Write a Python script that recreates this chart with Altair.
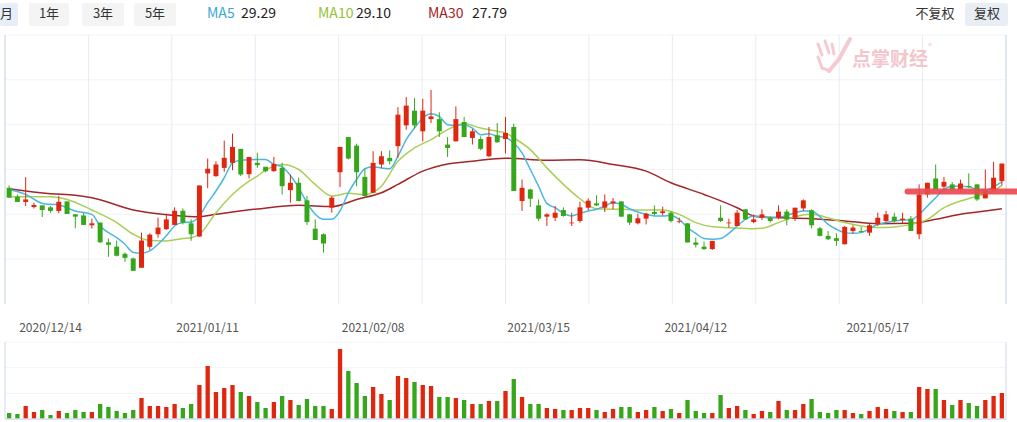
import altair as alt
import pandas as pd

# ---------------- data ----------------
opens = [28.98, 28.48, 28.19, 27.91, 28.00, 27.89, 27.69, 28.22, 27.50, 27.44,
         26.89, 27.04, 25.94, 25.70, 25.30, 25.04, 24.52, 25.69, 26.39, 26.67,
         26.91, 27.70, 27.00, 26.26, 29.78, 29.63, 30.09, 30.37, 31.15, 29.74,
         30.37, 30.15, 29.91, 30.09, 28.85, 29.26, 28.28, 26.70, 26.39, 27.87,
         29.85, 31.81, 31.33, 29.59, 28.70, 30.28, 30.65, 31.30, 32.46, 33.28,
         32.13, 32.81, 32.81, 31.39, 31.57, 32.65, 31.76, 31.70, 30.74, 31.91,
         31.70, 32.37, 28.24, 28.89, 28.00, 27.37, 27.31, 27.74, 27.00, 27.13,
         27.87, 28.11, 27.87, 28.11, 28.22, 27.50, 27.00, 27.26, 27.63, 27.57,
         27.59, 27.07, 27.00, 25.93, 25.70, 25.56, 27.31, 27.00, 26.85, 27.78,
         27.07, 27.31, 27.31, 27.31, 27.65, 27.31, 27.83, 27.72, 26.72, 26.30,
         26.17, 25.83, 26.57, 26.57, 26.48, 26.94, 27.13, 27.37, 27.18, 27.26,
         26.39, 28.61, 29.50, 29.04, 29.17, 28.89, 29.07, 29.17, 28.39, 28.85,
         29.35]
closes = [28.43, 28.19, 28.33, 28.02, 27.74, 27.69, 28.20, 27.52, 27.37, 26.91,
          27.00, 25.94, 25.80, 25.19, 25.07, 24.35, 26.04, 26.37, 26.76, 27.22,
          27.70, 27.04, 26.39, 29.11, 30.04, 30.28, 30.65, 31.26, 29.72, 30.70,
          30.24, 29.91, 30.31, 29.07, 29.26, 28.24, 27.07, 26.07, 25.87, 28.43,
          31.26, 30.61, 29.85, 28.52, 30.37, 30.74, 30.46, 33.06, 33.56, 32.46,
          33.28, 32.96, 32.13, 31.20, 32.81, 31.81, 32.13, 31.15, 31.81, 31.52,
          32.04, 28.80, 28.98, 28.37, 27.26, 27.50, 27.59, 27.41, 27.04, 27.89,
          28.26, 28.00, 28.22, 28.22, 27.37, 27.04, 27.28, 27.54, 27.52, 27.67,
          27.13, 27.11, 25.93, 25.80, 25.56, 26.02, 27.13, 27.04, 27.59, 27.22,
          27.22, 27.50, 27.13, 27.65, 27.22, 27.87, 28.28, 26.89, 26.30, 26.11,
          26.02, 26.80, 26.76, 26.52, 26.89, 27.31, 27.50, 27.13, 27.26, 26.57,
          28.61, 29.26, 28.89, 29.31, 28.89, 29.22, 29.02, 28.33, 28.80, 29.54,
          30.33]
highs = [29.11, 28.61, 29.57, 28.15, 28.00, 27.96, 28.52, 28.22, 27.50, 27.59,
         27.26, 27.04, 26.15, 26.04, 25.37, 25.09, 26.48, 26.44, 27.31, 27.54,
         27.89, 27.83, 27.22, 29.11, 30.61, 30.46, 31.61, 32.00, 31.15, 30.70,
         30.93, 30.15, 30.70, 30.37, 29.72, 29.54, 28.52, 27.22, 26.44, 28.52,
         31.26, 31.81, 31.44, 30.04, 31.02, 31.02, 31.07, 33.48, 34.04, 33.98,
         33.94, 34.44, 33.19, 31.81, 33.52, 32.93, 32.26, 31.85, 32.37, 32.59,
         32.93, 32.56, 29.44, 28.93, 28.33, 27.56, 27.96, 27.89, 27.59, 28.20,
         28.39, 28.56, 28.61, 28.41, 28.22, 27.50, 27.54, 27.59, 28.00, 27.93,
         27.67, 27.31, 27.00, 26.20, 25.98, 26.02, 28.00, 27.26, 27.74, 27.78,
         27.50, 27.78, 27.37, 28.00, 27.78, 27.87, 28.33, 27.78, 26.80, 26.57,
         26.44, 26.85, 26.89, 26.80, 26.98, 27.59, 27.69, 27.59, 27.59, 27.41,
         29.17, 29.26, 30.28, 29.59, 29.30, 29.44, 29.78, 29.17, 30.00, 30.43,
         30.33]
lows = [28.43, 28.19, 27.96, 27.83, 27.35, 27.59, 27.56, 27.52, 26.72, 26.91,
        26.70, 25.89, 25.13, 25.15, 24.85, 24.35, 24.52, 25.52, 26.20, 26.63,
        26.91, 26.94, 26.02, 26.26, 28.96, 29.59, 29.87, 29.96, 29.63, 29.50,
        30.09, 29.85, 29.87, 28.61, 28.15, 28.24, 26.91, 26.07, 25.37, 27.59,
        29.02, 30.56, 29.07, 28.48, 28.70, 30.09, 30.28, 30.65, 32.22, 32.28,
        31.57, 32.59, 31.81, 30.70, 31.57, 31.81, 31.39, 31.07, 30.70, 31.48,
        30.89, 28.80, 27.69, 27.91, 27.13, 26.85, 27.13, 27.37, 26.85, 27.04,
        27.72, 27.96, 27.63, 27.78, 27.37, 26.91, 26.94, 26.94, 27.44, 27.44,
        27.04, 27.00, 25.93, 25.65, 25.52, 25.52, 27.07, 26.76, 26.85, 27.19,
        27.00, 27.18, 27.04, 27.22, 26.89, 27.13, 27.69, 26.72, 26.26, 26.07,
        25.74, 25.83, 26.44, 26.48, 26.30, 26.85, 27.04, 27.04, 27.00, 26.57,
        26.11, 28.43, 28.89, 28.85, 28.85, 28.70, 28.98, 28.24, 28.39, 28.85,
        29.11]
volumes = [18, 15, 39, 21, 27, 12, 24, 18, 27, 21,
           21, 45, 36, 24, 18, 27, 63, 39, 39, 36,
           45, 33, 45, 102, 159, 81, 93, 102, 81, 69,
           51, 33, 51, 69, 57, 42, 60, 39, 39, 30,
           210, 144, 108, 69, 96, 75, 57, 129, 123, 111,
           102, 99, 66, 66, 63, 57, 45, 45, 54, 54,
           84, 120, 66, 45, 45, 33, 30, 27, 27, 33,
           33, 27, 21, 30, 36, 36, 21, 27, 36, 24,
           30, 18, 57, 24, 18, 18, 72, 33, 39, 27,
           15, 24, 21, 54, 27, 27, 45, 60, 21, 18,
           27, 27, 18, 15, 24, 36, 30, 24, 21, 21,
           96, 90, 90, 57, 42, 57, 48, 39, 57, 69,
           78]

ma5_i = [0, 2, 4, 6, 8, 10, 11, 13, 14, 15, 16, 17, 18, 19, 20, 21, 22, 23, 24, 25,
         26, 27, 28, 30, 31, 32, 33, 34, 35, 36, 37, 38, 39, 40, 41, 42, 43, 44, 45, 46,
         47, 48, 49, 50, 51, 52, 53, 54, 55, 56, 57, 58, 59, 60, 61, 62, 63, 64, 65, 66,
         67, 68, 69, 70, 71, 72, 73, 74, 75, 76, 77, 78, 79, 80, 81, 82, 83, 84, 85, 86,
         87, 88, 89, 90, 91, 92, 93, 94, 95, 96, 97, 98, 99, 100, 101, 102, 103, 104, 105, 106,
         107, 108, 109, 110, 111, 112, 113, 114, 115, 116, 117, 118, 119, 120]
ma5_v = [28.89, 28.61, 28.11, 28.02, 27.69, 27.50, 26.85, 26.20, 25.83, 25.37, 25.33, 25.46, 25.83, 26.30, 26.85, 27.04, 27.07, 27.41, 28.15, 28.80,
         29.54, 30.37, 30.52, 30.56, 30.56, 30.28, 30.15, 29.67, 28.98, 28.15, 27.50, 27.22, 27.22, 27.69, 28.70, 29.44, 30.04, 30.15, 30.09, 30.04,
         30.74, 31.67, 32.31, 32.87, 33.11, 32.96, 32.50, 32.46, 32.50, 32.31, 31.94, 32.00, 31.85, 31.78, 31.48, 30.93, 30.00, 29.07, 28.11, 27.87,
         27.56, 27.41, 27.56, 27.69, 27.78, 27.96, 28.15, 28.06, 27.81, 27.63, 27.50, 27.41, 27.41, 27.44, 27.22, 26.76, 26.44, 26.15, 26.11, 26.15,
         26.44, 26.85, 27.22, 27.41, 27.35, 27.31, 27.35, 27.44, 27.59, 27.69, 27.69, 27.37, 26.94, 26.67, 26.48, 26.44, 26.48, 26.70, 26.94, 27.04,
         27.13, 27.19, 27.19, 27.50, 27.96, 28.43, 28.89, 29.07, 29.07, 29.04, 28.89, 28.85, 29.04, 29.31]

ma10_i = [0, 5, 7, 10, 13, 15, 17, 19, 21, 22, 23, 25, 27, 29, 30, 31, 33, 35, 37, 39,
          41, 43, 45, 47, 49, 51, 53, 55, 57, 59, 60, 61, 63, 65, 67, 69, 71, 74, 77, 79,
          81, 83, 85, 88, 90, 91, 93, 95, 97, 99, 101, 103, 105, 107, 109, 111, 113, 115, 117, 119, 120]
ma10_v = [28.48, 28.48, 28.33, 27.74, 27.04, 26.39, 26.04, 26.02, 26.15, 26.20, 26.39, 27.59, 28.61, 29.35, 29.63, 29.96, 30.28, 30.00, 29.17, 28.52,
          28.67, 28.61, 29.07, 30.46, 31.20, 31.67, 32.22, 32.56, 32.31, 32.13, 32.04, 31.76, 31.11, 30.09, 29.17, 28.37, 27.81, 27.78, 27.74, 27.74,
          27.50, 27.04, 26.81, 26.74, 26.70, 26.72, 27.04, 27.37, 27.50, 27.31, 27.04, 26.85, 26.76, 26.80, 26.94, 27.22, 27.87, 28.24, 28.52, 28.80, 29.11]

ma30_i = [0, 5, 8, 10, 15, 20, 23, 25, 30, 35, 39, 42, 45, 47, 50, 53, 56, 60, 65, 69,
          73, 77, 80, 84, 88, 90, 91, 97, 101, 105, 109, 112, 115, 118, 120]
ma30_v = [28.93, 28.65, 28.56, 28.43, 27.74, 27.44, 27.37, 27.50, 27.80, 28.00, 27.93, 28.33, 28.70, 29.17, 29.91, 30.31, 30.46, 30.63, 30.52, 30.54,
          30.28, 29.91, 29.26, 28.61, 27.87, 27.41, 27.35, 27.26, 27.13, 26.98, 27.00, 27.22, 27.50, 27.68, 27.81]

label_idx = [5, 24, 44, 64, 83, 105]
label_txt = ["2020/12/14", "2021/01/11", "2021/02/08", "2021/03/15", "2021/04/12", "2021/05/17"]

price_grid = [25.0, 27.5, 30.0, 32.5, 35.0, 37.5]
vol_grid = [77, 154, 231]

ma_names = ["MA5", "MA10", "MA30"]
ma_last = ["29.29", "29.10", "27.79"]

annot_level = 28.78
annot_from = 108.6
annot_to = 122.0

# ---------------- layout / style ----------------
W, H = 1001, 384          # plot area (both panels)
MAIN_H = 269              # price panel height
VOL_TOP = 307             # volume panel top (relative)
RED, GREEN = "#e0260e", "#36a71a"
C_MA5, C_MA10, C_MA30 = "#4ab8e0", "#a9cf57", "#a3262a"
CJK = "Noto Sans CJK SC"

n = len(closes)
candles = pd.DataFrame({"i": list(range(n)), "open": opens, "close": closes,
                        "high": highs, "low": lows, "vol": volumes})
candles["dir"] = ["up" if c >= o else "down" for o, c in zip(opens, closes)]
candles["bl"] = candles["i"] - 0.3
candles["br"] = candles["i"] + 0.3
candles["vl"] = candles["i"] - 0.26
candles["vr"] = candles["i"] + 0.26

xs = alt.Scale(domain=[-0.5, n - 0.5], nice=False, zero=False)
ps = alt.Scale(domain=[37.5 - H * 15 / MAIN_H, 37.5], nice=False, zero=False)
vs = alt.Scale(domain=[0, 231 * H / (H - VOL_TOP)], nice=False, zero=True)
cs = alt.Scale(domain=["up", "down"], range=[RED, GREEN])

grid_x = pd.DataFrame({"gx": [k * n / 12 - 0.5 for k in range(13)]})
edge_x = pd.DataFrame({"gx": [-0.5, n - 0.5]})

# ---- price panel ----
hgrid = alt.Chart(pd.DataFrame({"p": price_grid})).mark_rule(color="#f1f4f8").encode(
    y=alt.Y("p:Q", scale=ps, axis=None), x=alt.value(0), x2=alt.value(W))
vgrid = alt.Chart(grid_x).mark_rule(color="#e6ecf4").encode(
    x=alt.X("gx:Q", scale=xs, axis=None), y=alt.value(0), y2=alt.value(MAIN_H))
vedge = alt.Chart(edge_x).mark_rule(color="#cfdaea").encode(
    x=alt.X("gx:Q", scale=xs, axis=None), y=alt.value(0), y2=alt.value(MAIN_H))

wicks = alt.Chart(candles).mark_rule(strokeWidth=1).encode(
    x=alt.X("i:Q", scale=xs, axis=None),
    y=alt.Y("low:Q", scale=ps, axis=None), y2="high:Q",
    color=alt.Color("dir:N", scale=cs, legend=None))
bodies = alt.Chart(candles).mark_rect().encode(
    x=alt.X("bl:Q", scale=xs, axis=None), x2="br:Q",
    y=alt.Y("open:Q", scale=ps, axis=None), y2="close:Q",
    color=alt.Color("dir:N", scale=cs, legend=None))


def ma_line(idx, vals, color):
    return alt.Chart(pd.DataFrame({"i": idx, "v": vals})).mark_line(
        color=color, strokeWidth=1.5, interpolate="monotone").encode(
        x=alt.X("i:Q", scale=xs, axis=None), y=alt.Y("v:Q", scale=ps, axis=None))


annot = alt.Chart(pd.DataFrame({"a": [annot_from], "b": [annot_to], "p": [annot_level]})).mark_rule(
    color="#ea4a50", strokeWidth=6, strokeCap="round", opacity=0.92).encode(
    x=alt.X("a:Q", scale=xs, axis=None), x2="b:Q", y=alt.Y("p:Q", scale=ps, axis=None))

main = alt.layer(hgrid, vgrid, vedge, ma_line(ma30_i, ma30_v, C_MA30),
                 ma_line(ma10_i, ma10_v, C_MA10), ma_line(ma5_i, ma5_v, C_MA5),
                 wicks, bodies, annot)

# ---- volume panel ----
vhgrid = alt.Chart(pd.DataFrame({"v": vol_grid})).mark_rule(color="#f1f4f8").encode(
    y=alt.Y("v:Q", scale=vs, axis=None), x=alt.value(0), x2=alt.value(W))
vol_edge = alt.Chart(edge_x).mark_rule(color="#cfdaea").encode(
    x=alt.X("gx:Q", scale=xs, axis=None), y=alt.value(VOL_TOP), y2=alt.value(H))
vol_bars = alt.Chart(candles).mark_rect().encode(
    x=alt.X("vl:Q", scale=xs, axis=None), x2="vr:Q",
    y=alt.Y("vol:Q", scale=vs, axis=None), y2=alt.datum(0),
    color=alt.Color("dir:N", scale=cs, legend=None))
vol_base = alt.Chart(pd.DataFrame({"v": [0]})).mark_rule(color="#d3dbeb", strokeWidth=1.5).encode(
    y=alt.Y("v:Q", scale=vs, axis=None), x=alt.value(0), x2=alt.value(W))

vol = alt.layer(vhgrid, vol_edge, vol_bars, vol_base)

# ---- texts ----
dummy = pd.DataFrame({"d": [0]})


def txt(s, x, y, color, size, align="left", weight="normal"):
    return alt.Chart(dummy).mark_text(text=s, align=align, baseline="middle", fontSize=size,
                                      color=color, font=CJK, fontWeight=weight).encode(
        x=alt.value(x), y=alt.value(y))


def box(x0, x1, y0, y1, color):
    return alt.Chart(dummy).mark_rect(color=color, cornerRadius=2).encode(
        x=alt.value(x0), x2=alt.value(x1), y=alt.value(y0), y2=alt.value(y1))


def stroke(x0, y0, x1, y1, color="#f4cbd0", w=3):
    return alt.Chart(dummy).mark_rule(color=color, strokeWidth=w, strokeCap="round").encode(
        x=alt.value(x0), y=alt.value(y0), x2=alt.value(x1), y2=alt.value(y1))


TY = -21
header = [
    box(-5, 13, -32, -9, "#e7eef7"), txt("月", 8, TY, "#333333", 13, "right"),
    box(24, 64, -32, -9, "#f4f4f4"), txt("1年", 44, TY, "#333333", 13, "center"),
    box(77, 119, -32, -9, "#f4f4f4"), txt("3年", 98, TY, "#333333", 13, "center"),
    box(129, 171, -32, -9, "#f4f4f4"), txt("5年", 150, TY, "#333333", 13, "center"),
    txt(ma_names[0], 202, TY, "#3aa6d8", 14), txt(ma_last[0], 236, TY, "#222222", 14),
    txt(ma_names[1], 313, TY, "#95bf38", 14), txt(ma_last[1], 351, TY, "#222222", 14),
    txt(ma_names[2], 423, TY, "#a31c1c", 14), txt(ma_last[2], 467, TY, "#222222", 14),
    txt("不复权", 930, TY, "#333333", 13, "center"),
    box(960, 1003, -32, -9, "#e9eef5"), txt("复权", 982, TY, "#333333", 13, "center"),
]

watermark = [
    stroke(813, 9, 817, 20), stroke(820, 6, 824, 18), stroke(827, 9, 829, 19),
    stroke(845, 4, 834, 24, w=4), stroke(834, 24, 824, 36, w=4),
    stroke(813, 22, 817, 33), stroke(817, 33, 825, 36),
    txt("点掌财经", 847, 25, "#f4c6cb", 19, "left", "bold"),
    txt("®", 923, 12, "#f4c6cb", 8),
]

dates = alt.Chart(pd.DataFrame({"i": label_idx, "t": label_txt})).mark_text(
    fontSize=12, color="#555555", font=CJK, baseline="middle", align="center").encode(
    x=alt.X("i:Q", scale=xs, axis=None), y=alt.value(293), text="t:N")

chart = alt.layer(main, vol, dates, *header, *watermark).resolve_scale(y="independent").properties(
    width=W, height=H,
    autosize=alt.AutoSizeParams(type="none"),
    padding={"left": 5, "top": 35, "right": 11, "bottom": 3},
    background="white",
).configure_view(stroke=None)

chart.save("out.html", embed_options={"renderer": "svg", "actions": False})
